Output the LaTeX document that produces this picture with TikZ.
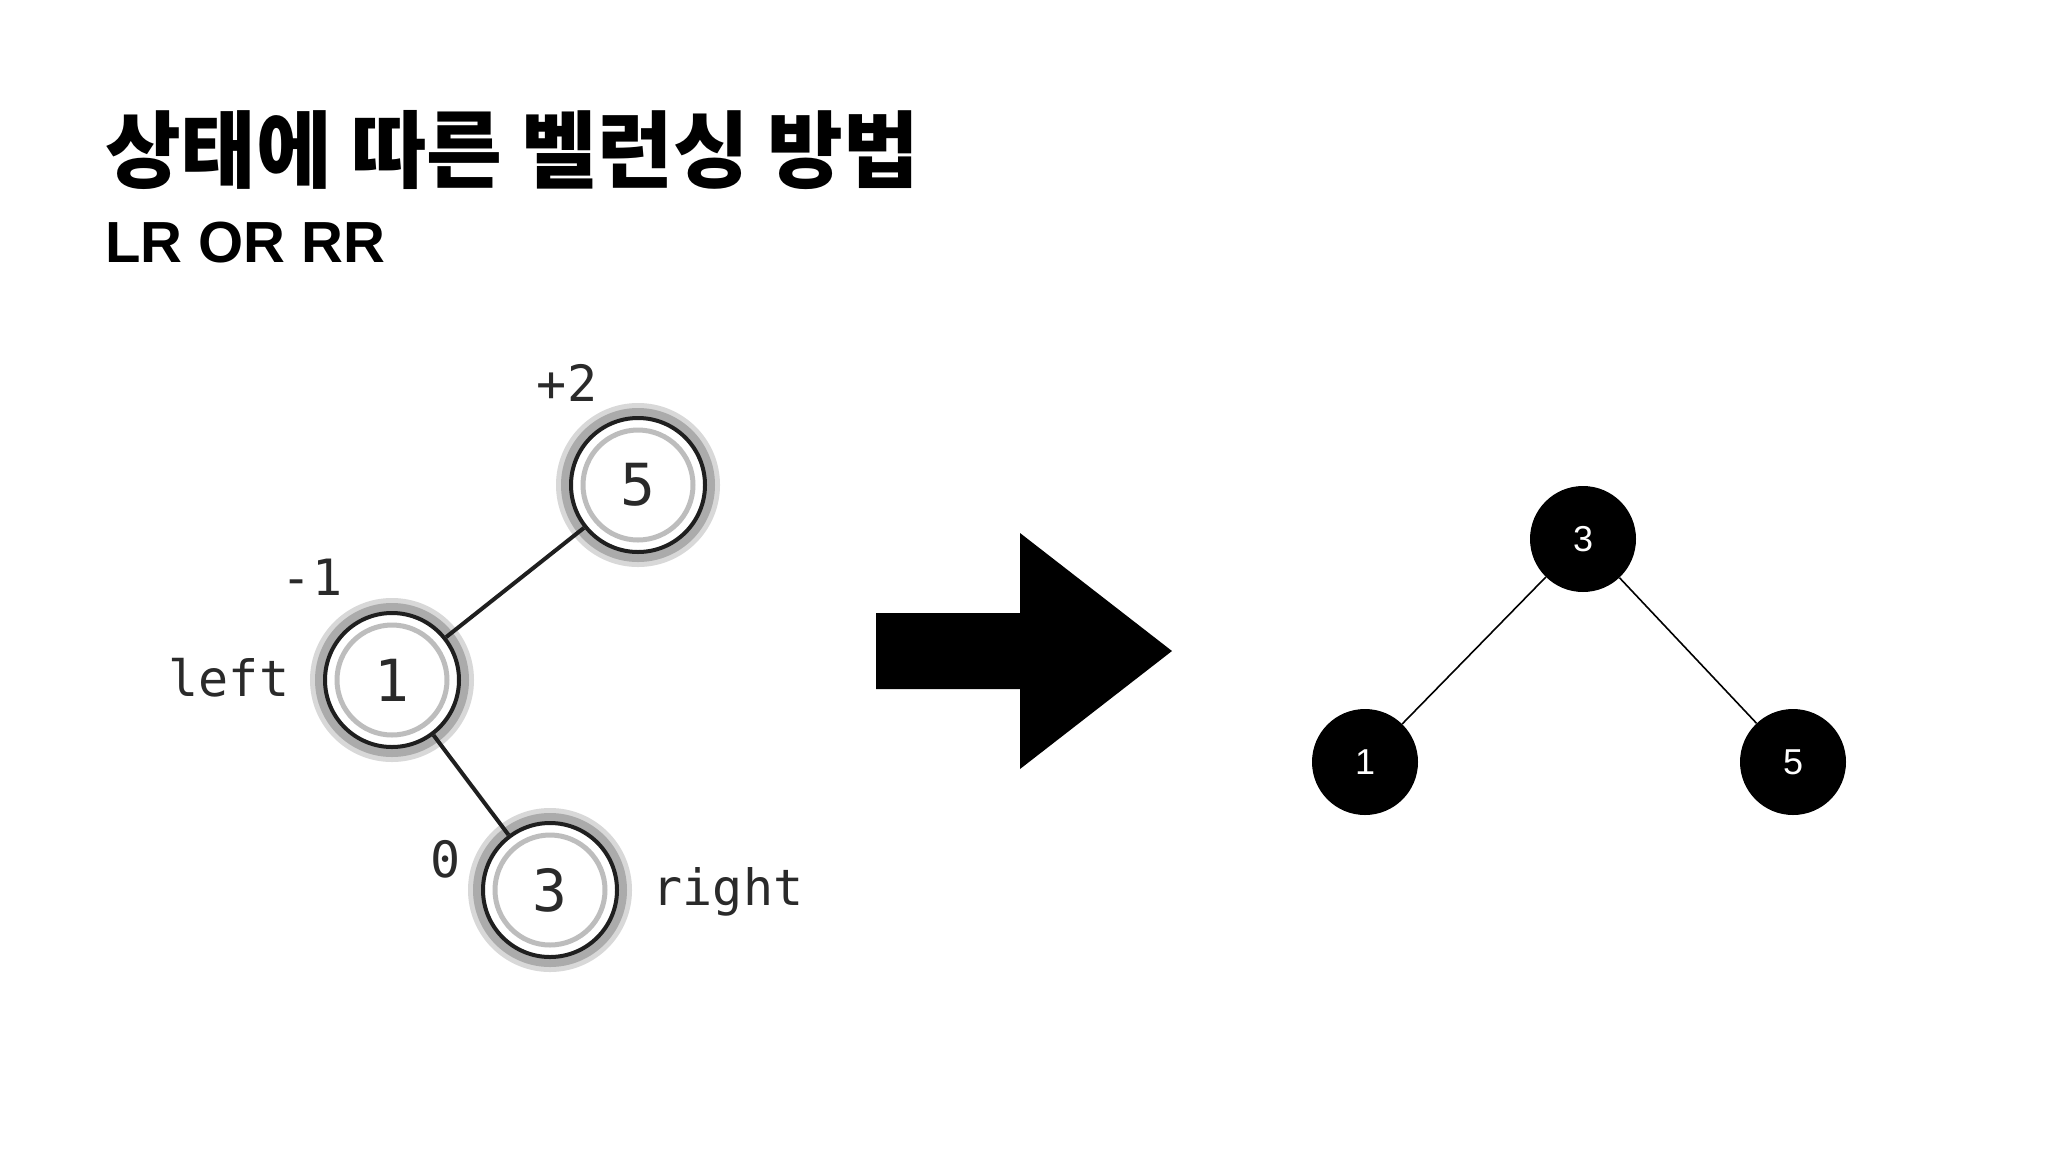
\documentclass[tikz,border=0pt]{standalone}
\usepackage{fontspec}
\usepackage{graphicx}
\setmainfont{Liberation Sans}
\newfontfamily\cjk{Noto Sans CJK KR}
\newfontfamily\monof{DejaVu Sans Mono}
\definecolor{labelgray}{HTML}{2A2A2A}
\definecolor{halogray}{HTML}{ABABAB}
\definecolor{halolight}{HTML}{D8D8D8}
\definecolor{ringgray}{HTML}{BDBDBD}
\tikzset{
  lnode/.style={circle, minimum size=134pt, inner sep=0pt, fill=white,
    draw=black!88, line width=4pt,
    preaction={draw=halolight, line width=30pt},
    preaction={draw=halogray, line width=20pt},
    path picture={\draw[ringgray, line width=5pt] (path picture bounding box.center) circle (55pt);},
    text=labelgray, font=\monof\fontsize{58}{60}\selectfont},
  lbl/.style={anchor=base, inner sep=0pt, text=labelgray, font=\monof\fontsize{50}{56}\selectfont},
  ledge/.style={draw=black!88, line width=4pt},
  rnode/.style={circle, minimum size=106pt, inner sep=0pt, fill=black, text=white,
    font=\fontsize{36}{38}\selectfont},
  redge/.style={draw=black, line width=1.6pt},
}
\begin{document}
\begin{tikzpicture}[x=1pt,y=-1pt]
\useasboundingbox (0,0) rectangle (2048,1152);
\fill[white] (0,0) rectangle (2048,1152);

% titles
\node[anchor=base west, inner sep=0pt] (title) at (105,181)
  {\scalebox{0.98}[1]{\cjk\bfseries\fontsize{84}{90}\selectfont 상태에 따른 벨런싱 방법}};
\node[anchor=base west, inner sep=0pt] (subtitle) at (105,262)
  {\bfseries\fontsize{58}{62}\selectfont LR OR RR};

% left tree
\node[lnode] (l5) at (638,485) {5};
\node[lnode] (l1) at (392,680) {1};
\node[lnode] (l3) at (550,890) {3};
\draw[ledge] (l5) -- (l1);
\draw[ledge] (l1) -- (l3);

\node[lbl] (lp2) at (567,401) {+2};
\node[lbl] (lm1) at (312,595) {-1};
\node[lbl] (lleft) at (229,696) {left};
\node[lbl] (lz) at (446,877) {0};
\node[lbl] (lright) at (728,905) {right};

% big arrow
\fill[black] (876,613) -- (1020,613) -- (1020,533) -- (1172,651)
  -- (1020,769) -- (1020,689) -- (876,689) -- cycle;

% right tree
\node[rnode] (r3) at (1583,539) {3};
\node[rnode] (r1) at (1365,762) {1};
\node[rnode] (r5) at (1793,762) {5};
\draw[redge] (r3) -- (r1);
\draw[redge] (r3) -- (r5);
\end{tikzpicture}
\end{document}
